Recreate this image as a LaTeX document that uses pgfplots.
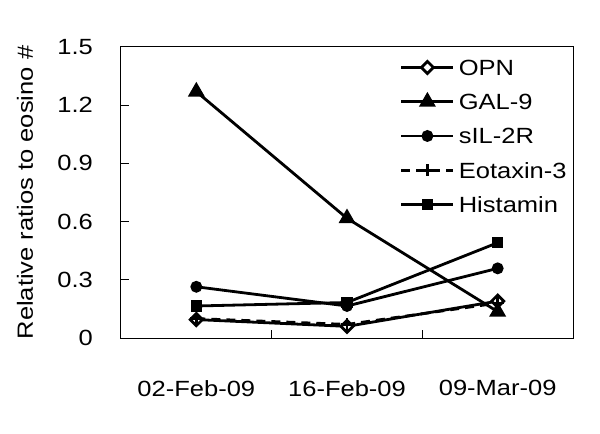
\documentclass[border=0pt]{standalone}
\usepackage{fontspec}
\setmainfont{Liberation Sans}[FakeStretch=1.16]
\usepackage{pgfplots}
\pgfplotsset{compat=1.18}
\begin{document}
\fontsize{22}{26}\selectfont
\begin{tikzpicture}[font=\fontsize{22}{26}\selectfont]
\begin{axis}[
  width=452pt, height=291pt, scale only axis,
  xmin=-0.5, xmax=2.5, ymin=0, ymax=1.5,
  xtick={0,1,2}, xticklabels={02-Feb-09,16-Feb-09,09-Mar-09},
  minor xtick={0.5,1.5},
  ytick={0,0.3,0.6,0.9,1.2,1.5}, yticklabels={0,0.3,0.6,0.9,1.2,1.5},
  tick pos=left, tick align=inside,
  major tick length=8pt, minor tick length=8pt,
  every major x tick/.style={draw=none},
  every minor x tick/.style={black, line width=1pt},
  every major y tick/.style={black, line width=1pt},
  axis line style={line width=1pt},
  x tick label style={inner sep=0pt, anchor=north, yshift=-42pt},
  y tick label style={inner sep=0pt, anchor=east, xshift=-28pt},
  ylabel={Relative ratios to eosino \#},
  ylabel style={at={(axis description cs:-0.2124,0.5)}, anchor=center, inner sep=0pt},
  legend style={at={(axis description cs:0,1)}, anchor=north west, xshift=279pt, yshift=-12.6pt,
    draw=none, fill=none, inner sep=0pt, outer sep=0pt, row sep=18.5pt, column sep=4pt,
    nodes={inner sep=0pt, text height=15.75pt, text depth=0pt}},
  legend cell align=left,
  legend image code/.code={\draw[mark repeat=2,mark phase=2] plot coordinates {(0pt,0pt) (26pt,0pt) (52pt,0pt)};},
  every axis plot/.append style={black, line width=2.8pt},
]
\coordinate (bl) at (rel axis cs:0,0);
\coordinate (tr) at (rel axis cs:1,1);
\addplot[mark=square*, mark size=4.3pt,
  mark options={solid, rotate=45, fill=white, draw=black, scale=1}]
  coordinates {(0,0.095) (1,0.06) (2,0.19)};
\addlegendentry{OPN}
\addplot[mark=triangle*, mark size=7pt, mark options={solid}]
  coordinates {(0,1.27) (1,0.617) (2,0.136)};
\addlegendentry{GAL-9}
\addplot[mark=*, mark size=4.5pt, mark options={solid}]
  coordinates {(0,0.264) (1,0.165) (2,0.359)};
\addlegendentry{sIL-2R}
\addplot[dash pattern=on 9pt off 6pt, mark=+, mark size=6pt, mark options={solid}]
  coordinates {(0,0.10) (1,0.07) (2,0.18)};
\addlegendentry{Eotaxin-3}
\addplot[mark=square*, mark size=4.3pt, mark options={solid}]
  coordinates {(0,0.165) (1,0.183) (2,0.491)};
\addlegendentry{Histamin}
\end{axis}
\pgfresetboundingbox
\useasboundingbox ([xshift=-121pt,yshift=-95pt]bl) rectangle ([xshift=27pt,yshift=47pt]tr);
\end{tikzpicture}
\end{document}
